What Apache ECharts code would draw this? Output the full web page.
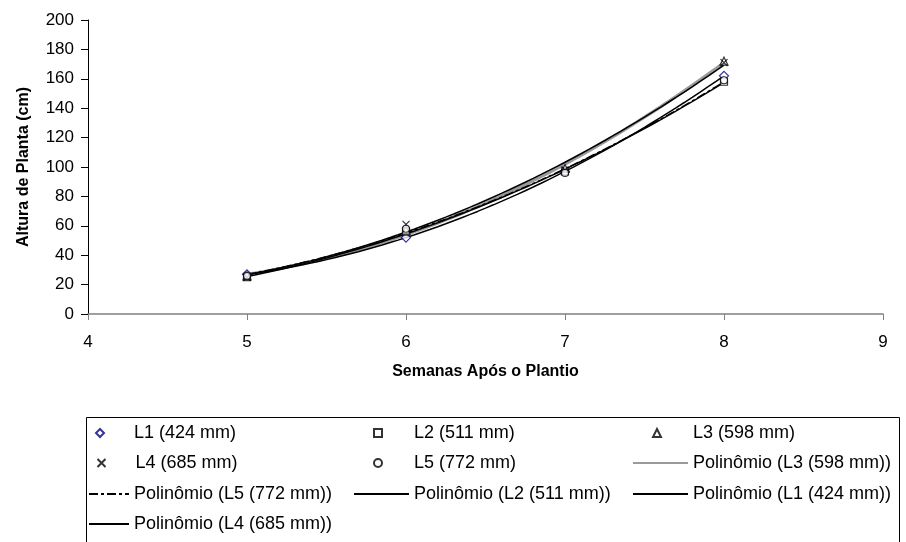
<!DOCTYPE html>
<html lang="pt">
<head>
    <meta charset="UTF-8">
    <title>Altura de Planta</title>
    <script src="https://cdn.jsdelivr.net/npm/echarts@6/dist/echarts.min.js"></script>
</head>
<body style="margin:0">
    <div id="ec" style="width:906px;height:542px"></div>
</body>
<script>
    // semanas apos o plantio
    var semanas = [5, 6, 7, 8]
    // altura de planta (cm) por lamina
    var L1 = [27, 52, 97, 162]
    var L2 = [25, 56, 97, 158]
    var L3 = [26, 57, 99, 172]
    var L4 = [25, 61, 98, 171]
    var L5 = [26, 58, 96, 159]
    var yTicks = [0, 200, 20]
    var xTicks = [4, 9, 1]

    var nomes = ['L1 (424 mm)', 'L2 (511 mm)', 'L3 (598 mm)', 'L4 (685 mm)', 'L5 (772 mm)']

    // ajuste polinomial de ordem 2 (linha de tendencia do Excel)
    function polyfit2(xs, ys) {
        var s = [0, 0, 0, 0, 0], t = [0, 0, 0]
        for (var i = 0; i < xs.length; i++) {
            var p = 1
            for (var k = 0; k < 5; k++) { s[k] += p; if (k < 3) t[k] += p * ys[i]; p *= xs[i] }
        }
        var A = [[s[0], s[1], s[2], t[0]], [s[1], s[2], s[3], t[1]], [s[2], s[3], s[4], t[2]]]
        for (var c = 0; c < 3; c++) {
            for (var r = c + 1; r < 3; r++) {
                var f = A[r][c] / A[c][c]
                for (var j = c; j < 4; j++) A[r][j] -= f * A[c][j]
            }
        }
        var b = [0, 0, 0]
        for (var r2 = 2; r2 >= 0; r2--) {
            var v = A[r2][3]
            for (var j2 = r2 + 1; j2 < 3; j2++) v -= A[r2][j2] * b[j2]
            b[r2] = v / A[r2][r2]
        }
        return b
    }
    function tendencia(ys) {
        var b = polyfit2(semanas, ys), pts = []
        var x0 = semanas[0], x1 = semanas[semanas.length - 1]
        for (var i = 0; i <= 60; i++) {
            var x = x0 + (x1 - x0) * i / 60
            pts.push([x, b[0] + b[1] * x + b[2] * x * x])
        }
        return pts
    }
    function pares(ys) { return semanas.map(function (x, i) { return [x, ys[i]] }) }

    var fonte = 'Liberation Sans, Arial, sans-serif'
    var cruz = 'path://M0,0L10,10M10,0L0,10'

    function pontos(nome, ys, simbolo, cor, tam) {
        return {
            name: nome, type: 'scatter', data: pares(ys), symbol: simbolo, symbolSize: tam,
            itemStyle: { color: simbolo === cruz ? 'none' : '#fff', borderColor: cor, borderWidth: 1.2 },
            z: 5
        }
    }
    function curva(nome, ys, cor, largura, tipo) {
        return {
            name: nome, type: 'line', data: tendencia(ys), symbol: 'none', smooth: false,
            itemStyle: { color: cor },
            lineStyle: { color: cor, width: largura, type: tipo || 'solid' }, z: 3
        }
    }

    var series = [
        curva('Polinômio (L3 (598 mm))', L3, '#9a9a9a', 3.2),
        curva('Polinômio (L5 (772 mm))', L5, '#000', 1.3, [9, 3, 3, 3]),
        curva('Polinômio (L2 (511 mm))', L2, '#000', 1.5),
        curva('Polinômio (L1 (424 mm))', L1, '#000', 1.5),
        curva('Polinômio (L4 (685 mm))', L4, '#000', 1.5),
        pontos(nomes[0], L1, 'diamond', '#000080', 9),
        pontos(nomes[1], L2, 'rect', '#000', 7),
        pontos(nomes[2], L3, 'triangle', '#000', 8),
        pontos(nomes[3], L4, cruz, '#000', 7),
        pontos(nomes[4], L5, 'circle', '#000', 7)
    ]

    // legenda: cada entrada posicionada como no Excel (3 colunas)
    var linhas = [433, 463, 494, 524]
    function itemMarcador(nome, cx, row, textoX) {
        return {
            data: [nome], left: cx - 4, top: linhas[row] - 9, itemWidth: 8, itemHeight: 8,
            padding: 0, selectedMode: false,
            textStyle: { fontFamily: fonte, fontSize: 18, color: '#000', padding: [0, 0, 0, textoX - (cx + 4) - 5] }
        }
    }
    function itemLinha(nome, x0, x1, row) {
        return {
            data: [nome], left: x0, top: linhas[row] - 9, itemWidth: x1 - x0, itemHeight: 14,
            padding: 0, selectedMode: false,
            itemStyle: { opacity: 0 },
            textStyle: { fontFamily: fonte, fontSize: 18, color: '#000' }
        }
    }
    var legend = [
        itemMarcador(nomes[0], 99, 0, 133),
        itemMarcador(nomes[1], 377, 0, 413),
        itemMarcador(nomes[2], 656, 0, 692),
        itemMarcador(nomes[3], 99, 1, 133),
        itemMarcador(nomes[4], 377, 1, 413),
        itemLinha('Polinômio (L3 (598 mm))', 632, 687, 1),
        itemLinha('Polinômio (L5 (772 mm))', 88, 128, 2),
        itemLinha('Polinômio (L2 (511 mm))', 353, 408, 2),
        itemLinha('Polinômio (L1 (424 mm))', 632, 687, 2),
        itemLinha('Polinômio (L4 (685 mm))', 88, 128, 3)
    ]

    var mychart = echarts.init(document.getElementById('ec'))
    var options = {
        animation: false,
        backgroundColor: '#fff',
        textStyle: { fontFamily: fonte },
        grid: { left: 88, right: 23, top: 20, bottom: 228, containLabel: false },
        xAxis: {
            type: 'value', min: xTicks[0], max: xTicks[1], interval: xTicks[2],
            name: 'Semanas Após o Plantio', nameLocation: 'middle', nameGap: 50,
            nameTextStyle: { fontFamily: fonte, fontSize: 16, fontWeight: 'bold', color: '#000' },
            axisLine: { onZero: false, lineStyle: { color: '#808080', width: 1.5 } },
            axisTick: { show: true, length: 6, lineStyle: { color: '#808080' } },
            axisLabel: { fontFamily: fonte, fontSize: 17, color: '#000', margin: 20 },
            splitLine: { show: false }
        },
        yAxis: {
            type: 'value', min: yTicks[0], max: yTicks[1], interval: yTicks[2],
            name: 'Altura de Planta (cm)', nameLocation: 'middle', nameGap: 56,
            nameTextStyle: { fontFamily: fonte, fontSize: 16, fontWeight: 'bold', color: '#000' },
            axisLine: { show: true, lineStyle: { color: '#000', width: 1 } },
            axisTick: { show: true, length: 7, lineStyle: { color: '#000' } },
            axisLabel: { fontFamily: fonte, fontSize: 17, color: '#000', margin: 14 },
            splitLine: { show: false }
        },
        legend: legend,
        graphic: [{
            type: 'rect', shape: { x: 86.5, y: 417.5, width: 813, height: 140 },
            style: { fill: 'none', stroke: '#000', lineWidth: 1 }, z: -1
        }],
        series: series
    }
    mychart.setOption(options)
</script>
</html>
